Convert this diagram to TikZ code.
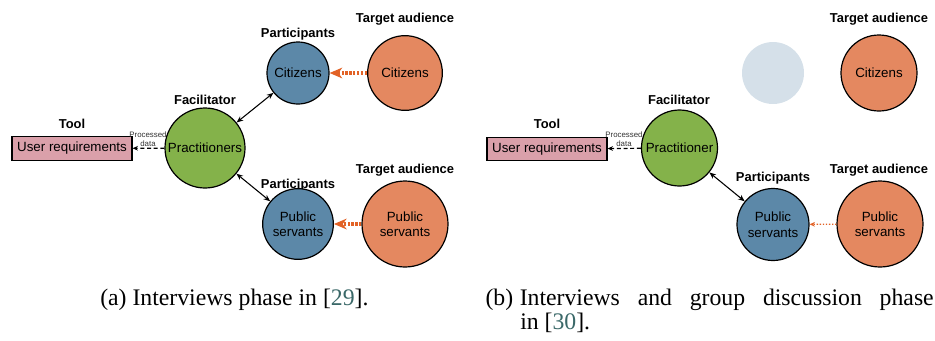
\documentclass[tikz,border=0pt]{standalone}
\usepackage{fontspec}
\setmainfont{Liberation Sans}
\newfontfamily\capfont{Liberation Serif}
\usetikzlibrary{arrows.meta}
\definecolor{cgreen}{RGB}{132,178,74}
\definecolor{cblue}{RGB}{92,136,168}
\definecolor{corange}{RGB}{228,136,96}
\definecolor{cpink}{RGB}{218,160,170}
\definecolor{cghost}{RGB}{213,224,233}
\definecolor{carrow}{RGB}{226,98,38}
\definecolor{ccite}{RGB}{58,104,104}
\tikzset{
  circ/.style={circle, draw=black, line width=0.9pt, inner sep=0pt, align=center,
    font=\fontsize{10}{11.6}\selectfont},
  prac/.style={circ, fill=cgreen},
  part/.style={circ, fill=cblue},
  targ/.style={circ, fill=corange},
  ghost/.style={circle, fill=cghost, inner sep=0pt},
  toolbox/.style={draw=black, line width=0.9pt, fill=cpink, minimum width=90pt,
    minimum height=17.5pt, inner sep=0pt, font=\fontsize{10}{12}\selectfont},
  lbl/.style={inner sep=0pt, font=\bfseries\fontsize{9.7}{11}\selectfont},
  small/.style={inner sep=0pt, align=center, text=black!80, font=\fontsize{5.9}{6.8}\selectfont},
  bi/.style={{Stealth[length=5pt,width=4pt]}-{Stealth[length=5pt,width=4pt]}, line width=0.8pt},
  datarrow/.style={-{Stealth[length=4pt,width=3.5pt]}, line width=0.9pt, dash pattern=on 3pt off 2pt},
  thickorange/.style={draw=carrow, line width=2.7pt, dash pattern=on 1.7pt off 1.2pt,
    -{Stealth[length=9.5pt,width=8pt,inset=3pt]}},
  thinorange/.style={draw=carrow, line width=0.9pt, dash pattern=on 1pt off 1.3pt,
    -{Stealth[length=4pt,width=3.5pt]}},
  captext/.style={inner sep=0pt, font=\capfont\fontsize{17.8}{20}\selectfont}
}
\begin{document}
\begin{tikzpicture}[x=0.75pt,y=-0.75pt]
\useasboundingbox (0,0) rectangle (935,340);
% ---------- (a) ----------
\node[lbl] (aToolL) at (72,124) {Tool};
\node[toolbox] (aTool) at (72,148.5) {User requirements};
\node[lbl] (aFacL) at (205,100) {Facilitator};
\node[prac, minimum size=60pt] (aPrac) at (205,148) {Practitioners};
\node[lbl] (aPartL1) at (298,34) {Participants};
\node[part, minimum size=46.5pt] (aCit) at (298,73) {Citizens};
\node[lbl] (aTaL1) at (405,19) {Target audience};
\node[targ, minimum size=56pt] (aTCit) at (405,73) {Citizens};
\node[lbl] (aPartL2) at (298,185) {Participants};
\node[part, minimum size=53pt] (aPub) at (298,224) {Public\\servants};
\node[lbl] (aTaL2) at (405,170) {Target audience};
\node[targ, minimum size=64.5pt] (aTPub) at (405,224) {Public\\servants};
\node[small] (aData) at (148,139) {Processed\\data};
\draw[datarrow] (aPrac) -- (aTool);
\draw[bi] (aPrac) -- (aCit);
\draw[bi] (aPrac) -- (aPub);
\draw[thickorange] (aTCit) -- (aCit);
\draw[thickorange] (aTPub) -- (aPub);
% ---------- (b) ----------
\node[lbl] (bToolL) at (547,124) {Tool};
\node[toolbox] (bTool) at (547,149) {User requirements};
\node[lbl] (bFacL) at (679,100) {Facilitator};
\node[prac, minimum size=57pt] (bPrac) at (679.5,148) {Practitioner};
\node[ghost, minimum size=46.5pt] (bGhost) at (773,73) {};
\node[lbl] (bTaL1) at (879,19) {Target audience};
\node[targ, minimum size=57pt] (bTCit) at (879,73) {Citizens};
\node[lbl] (bPartL) at (773,178) {Participants};
\node[part, minimum size=54pt] (bPub) at (773,224.5) {Public\\servants};
\node[lbl] (bTaL2) at (879,170) {Target audience};
\node[targ, minimum size=64.5pt] (bTPub) at (880,224) {Public\\servants};
\node[small] (bData) at (624,139) {Processed\\data};
\draw[datarrow] (bPrac) -- (bTool);
\draw[bi] (bPrac) -- (bPub);
\draw[thinorange] (bTPub) -- (bPub);
% ---------- captions ----------
\node[captext, anchor=base west] (capA) at (100,305) {(a) Interviews phase in [\textcolor{ccite}{29}].};
\node[captext, anchor=base east] (capB0) at (513.5,305) {(b)};
\node[captext, anchor=base west] (capB1) at (519.5,305) {\makebox[310.5pt][s]{Interviews and group discussion phase}};
\node[captext, anchor=base west] (capB2) at (520,329.5) {in [\textcolor{ccite}{30}].};
\end{tikzpicture}
\end{document}
